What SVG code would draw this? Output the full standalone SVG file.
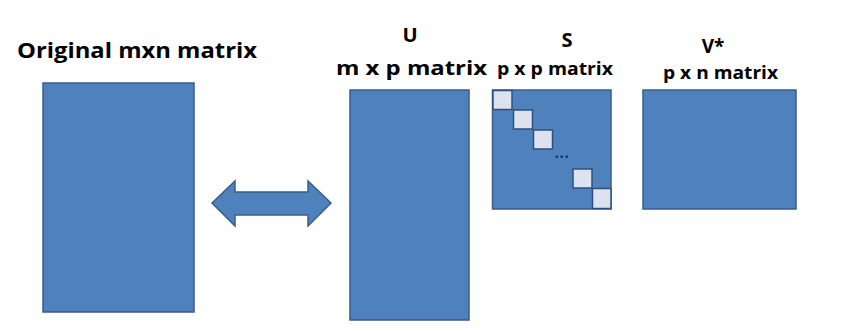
<svg xmlns="http://www.w3.org/2000/svg" width="841" height="331" viewBox="0 0 841 331">
<style>
.m{fill:#4f81bd;stroke:#385d8a;stroke-width:1.5}
.d{fill:#dce3ef;stroke:#2f4f7f;stroke-width:1.5}
.t{font-family:"Open Sans","Liberation Sans",Arial,sans-serif;font-weight:bold;fill:#000}
.dot{fill:#1f3a66}
</style>
<rect width="841" height="331" fill="#ffffff"/>
<g id="original">
<text class="t" x="17" y="58" font-size="21" textLength="240" lengthAdjust="spacingAndGlyphs">Original mxn matrix</text>
<rect class="m" x="43" y="83" width="151" height="229"/>
</g>
<g id="connectors">
<path class="m" d="M212,203 L235,181 L235,192 L308,192 L308,181 L331,203 L308,226 L308,215 L235,215 L235,226 Z"/>
</g>
<g id="U">
<text class="t" x="410" y="42" font-size="20" text-anchor="middle">U</text>
<text class="t" x="336" y="75" font-size="19" textLength="151" lengthAdjust="spacingAndGlyphs">m x p matrix</text>
<rect class="m" x="350" y="90" width="119" height="230"/>
</g>
<g id="S">
<text class="t" x="567" y="47" font-size="20" text-anchor="middle">S</text>
<text class="t" x="497" y="75" font-size="17" textLength="116" lengthAdjust="spacingAndGlyphs">p x p matrix</text>
<rect class="m" x="492.5" y="90" width="118.5" height="119"/>
<rect class="d" x="493" y="90.5" width="19" height="19"/>
<rect class="d" x="513.5" y="110" width="19" height="19"/>
<rect class="d" x="533.5" y="130" width="19" height="19"/>
<rect class="dot" x="555.5" y="155.5" width="2.5" height="2.5"/>
<rect class="dot" x="560.5" y="155.5" width="2.5" height="2.5"/>
<rect class="dot" x="565.5" y="155.5" width="2.5" height="2.5"/>
<rect class="d" x="573" y="169" width="19" height="19"/>
<rect class="d" x="592.5" y="188.5" width="18.5" height="20"/>
</g>
<g id="V">
<text class="t" x="713" y="53" font-size="19" text-anchor="middle">V*</text>
<text class="t" x="663" y="79" font-size="17" textLength="115" lengthAdjust="spacingAndGlyphs">p x n matrix</text>
<rect class="m" x="643" y="90" width="153" height="119"/>
</g>
</svg>
